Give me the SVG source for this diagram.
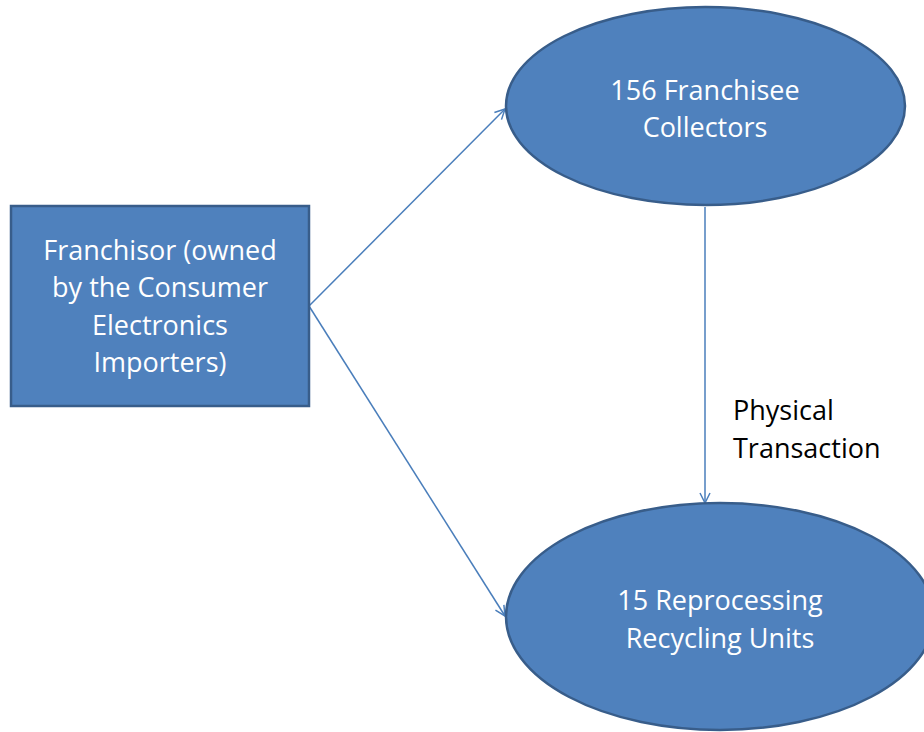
<svg xmlns="http://www.w3.org/2000/svg" width="924" height="732" viewBox="0 0 924 732">
<style>
.shape{fill:#4f81bd;stroke:#385d8a;stroke-width:2.5}
.lbl{font-family:"Open Sans","Liberation Sans",sans-serif;font-size:27px;fill:#ffffff;text-anchor:middle}
.note{font-family:"Open Sans","Liberation Sans",sans-serif;font-size:27px;fill:#000000}
.conn{stroke:#4a7ebb;stroke-width:1.5;fill:none;marker-end:url(#arr)}
</style>
<defs>
<marker id="arr" viewBox="0 0 12 12" refX="11" refY="6" markerWidth="12" markerHeight="12" markerUnits="userSpaceOnUse" orient="auto">
<path d="M1,1 L11,6 L1,11" fill="none" stroke="#4a7ebb" stroke-width="1.5"/>
</marker>
</defs>
<rect width="924" height="732" fill="#ffffff"/>
<g id="connectors">
<line class="conn" x1="309" y1="306" x2="505" y2="109"/>
<line class="conn" x1="309" y1="306" x2="505" y2="616"/>
<line class="conn" x1="705" y1="207" x2="705" y2="503"/>
</g>
<g id="franchisor">
<rect class="shape" x="11" y="206" width="298" height="200"/>
<text class="lbl" x="160" y="260">Franchisor (owned</text>
<text class="lbl" x="160" y="297">by the Consumer</text>
<text class="lbl" x="160" y="335">Electronics</text>
<text class="lbl" x="160" y="372">Importers)</text>
</g>
<g id="collectors">
<ellipse class="shape" cx="705.5" cy="106" rx="199.5" ry="99"/>
<text class="lbl" x="705" y="100">156 Franchisee</text>
<text class="lbl" x="705" y="137">Collectors</text>
</g>
<g id="recyclers">
<ellipse class="shape" cx="720" cy="616.5" rx="214" ry="113.5"/>
<text class="lbl" x="720" y="610">15 Reprocessing</text>
<text class="lbl" x="720" y="648">Recycling Units</text>
</g>
<g id="label">
<text class="note" x="733" y="420">Physical</text>
<text class="note" x="733" y="458">Transaction</text>
</g>
</svg>
